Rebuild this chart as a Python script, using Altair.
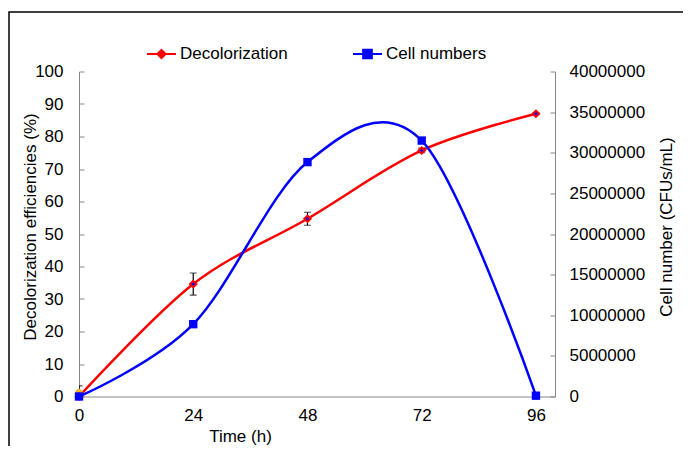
import altair as alt
import pandas as pd

# ---- data ----
time = [0, 24, 48, 72, 96]
decol = [0, 34.6, 54.7, 75.7, 87.0]
decol_err = [3.3, 3.4, 2.0, 0.7, 0.3]
cells = [0, 8900000, 28850000, 31500000, 100000]
extra_time = [0]
extra_val = [1.2]

x_ticks = [0, 24, 48, 72, 96]
left_ticks = list(range(0, 101, 10))
right_ticks = list(range(0, 40000001, 5000000))

FONT = "Liberation Sans"
GRAY = "#868686"
RED = "#FF0000"
BLUE = "#0000FF"

df = pd.DataFrame({
    "time": time,
    "decol": decol,
    "lo": [d - e for d, e in zip(decol, decol_err)],
    "hi": [d + e for d, e in zip(decol, decol_err)],
    "cells": cells,
    "s1": ["Decolorization"] * len(time),
    "s2": ["Cell numbers"] * len(time),
})
df_extra = pd.DataFrame({"time": extra_time, "decol": extra_val})

x_enc = alt.X("time:Q", scale=alt.Scale(domain=[0, 100], nice=False, zero=False),
              axis=alt.Axis(values=x_ticks, title="Time (h)", ticks=False, grid=False,
                            labelFlush=False, labelOverlap=False,
                            domainColor=GRAY, domainWidth=1, labelPadding=11,
                            titleX=161, titleY=39.5, titleBaseline="middle"))

left_axis = alt.Axis(values=left_ticks, title="Decolorization efficiencies (%)", orient="left",
                     grid=False, tickSize={"expr": "-5"}, tickColor=GRAY, domainColor=GRAY,
                     labelPadding=21, labelFlush=False, titleX=-49, titleY=155, titleAngle=270,
                     titleBaseline="middle", titleAlign="center")
left_scale = alt.Scale(domain=[0, 100], nice=False)

def yl(field):
    return alt.Y(field, scale=left_scale, axis=left_axis)

right_axis = alt.Axis(values=right_ticks, title="Cell number (CFUs/mL)", orient="right",
                      grid=False, format="d", tickSize={"expr": "-5"}, tickColor=GRAY,
                      domainColor=GRAY, labelPadding=19, labelFlush=False, titleX=111, titleY=155,
                      titleAngle=270, titleBaseline="middle", titleAlign="center")

RED_PATH = "M-1,0H1M0,-0.28L0.28,0L0,0.28L-0.28,0Z"
BLUE_PATH = "M-1,0H1M-0.3,-0.3H0.3V0.3H-0.3Z"

def legend(path, lx, color):
    return alt.Legend(title=None, orient="none", legendX=lx, legendY=-33, symbolType=path,
                      symbolSize=841, symbolStrokeWidth=2, symbolFillColor=color,
                      symbolStrokeColor=color, labelFont=FONT, labelFontSize=17,
                      labelColor="black", labelOffset=3, padding=0)

base = alt.Chart(df)

red_line = base.mark_line(strokeWidth=2.5, interpolate="cardinal").encode(
    x=x_enc, y=yl("decol:Q"),
    color=alt.Color("s1:N", scale=alt.Scale(domain=["Decolorization"], range=[RED]),
                    legend=legend(RED_PATH, 67, RED)))
err_rule = base.mark_rule(color="black", strokeWidth=1.2, clip=True).encode(
    x=x_enc, y=yl("lo:Q"), y2="hi:Q")
cap_lo = base.mark_tick(color="black", orient="horizontal", size=7, thickness=1.2, clip=True).encode(
    x=x_enc, y=yl("lo:Q"))
cap_hi = base.mark_tick(color="black", orient="horizontal", size=7, thickness=1.2, clip=True).encode(
    x=x_enc, y=yl("hi:Q"))
orange = alt.Chart(df_extra).mark_point(shape="circle", filled=True, color="#F5B331",
                                        size=55, opacity=1).encode(x=x_enc, y=yl("decol:Q"))
red_pts = base.mark_point(shape="diamond", filled=True, fill=BLUE, stroke=RED, strokeWidth=2,
                          size=40, opacity=1).encode(x=x_enc, y=yl("decol:Q"))

red_layer = alt.layer(red_line, err_rule, cap_lo, cap_hi, orange, red_pts)

blue_y = alt.Y("cells:Q", scale=alt.Scale(domain=[0, 40000000], nice=False), axis=right_axis)
blue_line = base.mark_line(strokeWidth=2.5, interpolate="cardinal").encode(
    x=x_enc, y=blue_y,
    color=alt.Color("s2:N", scale=alt.Scale(domain=["Cell numbers"], range=[BLUE]),
                    legend=legend(BLUE_PATH, 273, BLUE)))
blue_pts = base.mark_square(size=70, color=BLUE, opacity=1).encode(x=x_enc, y=blue_y)
blue_layer = alt.layer(blue_line, blue_pts)

frame = alt.Chart(pd.DataFrame({"a": [0]})).mark_rect(
    fill="transparent", stroke="black", strokeWidth=1.5, clip=False).encode(
    x=alt.value(-70), x2=alt.value(1000), y=alt.value(-59.5), y2=alt.value(1000))

chart = alt.layer(red_layer, blue_layer, frame).resolve_scale(
    y="independent", color="independent"
).properties(
    width=476, height=325,
    autosize=alt.AutoSizeParams(type="none"),
    padding={"left": 71, "top": 63.5, "right": 128, "bottom": 49.5},
).configure_view(stroke=None).configure_axis(
    labelFont=FONT, labelFontSize=17, labelColor="black",
    titleFont=FONT, titleFontSize=17, titleColor="black", titleFontWeight="normal",
)

chart.save("out.html", embed_options={"renderer": "svg", "actions": False})
